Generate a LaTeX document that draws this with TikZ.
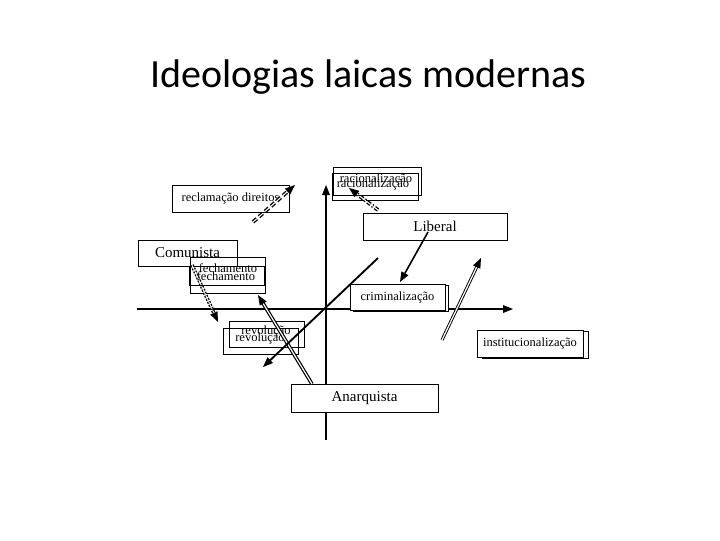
\documentclass[tikz,border=0pt]{standalone}
\usepackage{fontspec}
\setmainfont{Liberation Serif}
\newfontfamily\titlefont{Carlito}
\usepackage{tikz}

\begin{document}
\begin{tikzpicture}[x=0.75pt,y=0.75pt,yscale=-1,xscale=1,
  ideabox/.style={draw, line width=0.75pt, fill=white},
  twinbox/.style={draw, line width=0.75pt, inner sep=0pt},
  bigtxt/.style={font=\fontsize{11.25}{13}\selectfont, inner sep=0.75pt},
  smalltxt/.style={font=\fontsize{9.4}{11}\selectfont, inner sep=0.75pt},
  axisline/.style={line width=1.5pt},
  tiphead/.style={fill=black, draw opacity=0}]
\useasboundingbox (0,0) rectangle (720,540);

% Title
\node [font=\titlefont\fontsize{30}{36}\selectfont, anchor=base, inner sep=0pt] (title) at (368,87) {Ideologias laicas modernas};

%Coordinates of the free ends
\coordinate (yaxisbot) at (326,440);
\coordinate (yaxistop) at (326,185);
\coordinate (xaxisleft) at (137,309);
\coordinate (xaxisright) at (513,309);
\coordinate (reclamtail) at (253,222);
\coordinate (reclamtip) at (295,185);
\coordinate (raciotail) at (378,210);
\coordinate (raciotip) at (349,188);
\coordinate (libtail) at (428,232);
\coordinate (libtip) at (400,282);
\coordinate (fechtail) at (192,265);
\coordinate (fechtip) at (218,322);
\coordinate (anartail) at (312,384);
\coordinate (anartip) at (258,295);
\coordinate (diagtail) at (378,258);
\coordinate (diagtip) at (263,367);
\coordinate (insttail) at (442,340);
\coordinate (insttip) at (481,258);

%Straight Lines (vertical axis)
\draw [axisline, shorten >=5pt] (yaxisbot) -- (yaxistop);
\draw [shift={(yaxistop)}, rotate=90] [tiphead] (10,-4) -- (0,0) -- (10,4) -- cycle ;
%Straight Lines (horizontal axis)
\draw [axisline, shorten >=5pt] (xaxisleft) -- (xaxisright);
\draw [shift={(xaxisright)}, rotate=180] [tiphead] (10,-4) -- (0,0) -- (10,4) -- cycle ;

%Shape: Rectangle (shadows)
\node [ideabox, minimum width=71.25pt, minimum height=19.5pt] (crimshadow) at (401,298) {};
\node [ideabox, minimum width=79.5pt, minimum height=20.25pt] (instshadow) at (535,345) {};

% Text Node
\node [ideabox, bigtxt, minimum width=74.25pt, minimum height=19.5pt] (comunista) at (187.5,253) {Comunista};
% Text Node
\node [ideabox, bigtxt, minimum width=108pt, minimum height=20.25pt] (liberal) at (435,226.5) {Liberal};
% Text Node
\node [ideabox, bigtxt, minimum width=110.25pt, minimum height=21pt] (anarquista) at (364.5,398) {Anarquista};
% Text Node
\node [ideabox, smalltxt, minimum width=87.75pt, minimum height=20.25pt] (reclam) at (230.5,198.5) {reclamação direitos};
% Text Node
\node [ideabox, smalltxt, minimum width=71.25pt, minimum height=19.5pt] (crim) at (397.5,297) {criminalização};
% Text Node
\node [ideabox, smalltxt, minimum width=79.5pt, minimum height=20.25pt] (inst) at (530,343.5) {institucionalização};

%Shape: Rectangle (twin boxes)
\node [twinbox, minimum width=66pt, minimum height=21pt] (racioboxA) at (377,181) {};
\node [twinbox, minimum width=64.5pt, minimum height=20.25pt] (racioboxB) at (375,186.5) {};
\node [twinbox, minimum width=56.25pt, minimum height=27pt] (fechboxA) at (227.5,275) {};
\node [twinbox, minimum width=56.25pt, minimum height=14.25pt] (fechboxB) at (226.5,275.5) {};
\node [twinbox, minimum width=56.25pt, minimum height=19.5pt] (revoboxA) at (266.5,334) {};
\node [twinbox, minimum width=56.25pt, minimum height=19.5pt] (revoboxB) at (260.5,341) {};

% Text Node
\node [smalltxt] (raciotxtA) at (376,179) {racionalização};
% Text Node
\node [smalltxt] (raciotxtB) at (373,184.5) {racionalização};
% Text Node
\node [smalltxt] (fechtxtA) at (228,268.5) {fechamento};
% Text Node
\node [smalltxt] (fechtxtB) at (226,276) {fechamento};
% Text Node
\node [smalltxt] (revotxtA) at (266,331) {revolução};
% Text Node
\node [smalltxt] (revotxtB) at (260,338) {revolução};

%Straight Lines (reclamacao)
\draw [double, line width=1pt, double distance=0.8pt, dash pattern={on 3.75pt off 2.25pt}, shorten >=5pt] (reclamtail) -- (reclamtip);
\draw [shift={(reclamtip)}, rotate=138.6] [tiphead] (10,-4) -- (0,0) -- (10,4) -- cycle ;
%Straight Lines (racionalizacao)
\draw [double, line width=1pt, double distance=0.8pt, dash pattern={on 3pt off 1.5pt on 1pt off 1.5pt}, shorten >=5pt] (raciotail) -- (raciotip);
\draw [shift={(raciotip)}, rotate=37.2] [tiphead] (10,-4) -- (0,0) -- (10,4) -- cycle ;
%Straight Lines (liberal)
\draw [line width=1.2pt, shorten >=5pt] (libtail) -- (libtip);
\draw [shift={(libtip)}, rotate=299.25] [tiphead] (10,-4) -- (0,0) -- (10,4) -- cycle ;
%Straight Lines (fechamento)
\draw [double, line width=1pt, double distance=0.7pt, dash pattern={on 1.5pt off 1pt}, shorten >=5pt] (fechtail) -- (fechtip);
\draw [shift={(fechtip)}, rotate=245.5] [tiphead] (10,-4) -- (0,0) -- (10,4) -- cycle ;
%Straight Lines (anarquista)
\draw [double, line width=0.9pt, double distance=0.9pt, shorten >=5pt] (anartail) -- (anartip);
\draw [shift={(anartip)}, rotate=58.75] [tiphead] (10,-4) -- (0,0) -- (10,4) -- cycle ;
%Straight Lines (diagonal)
\draw [line width=1.4pt, shorten >=5pt] (diagtail) -- (diagtip);
\draw [shift={(diagtip)}, rotate=316.5] [tiphead] (10,-4) -- (0,0) -- (10,4) -- cycle ;
%Straight Lines (institucionalizacao)
\draw [double, line width=0.7pt, double distance=0.9pt, shorten >=5pt] (insttail) -- (insttip);
\draw [shift={(insttip)}, rotate=115.4] [tiphead] (10,-4) -- (0,0) -- (10,4) -- cycle ;

\end{tikzpicture}
\end{document}
